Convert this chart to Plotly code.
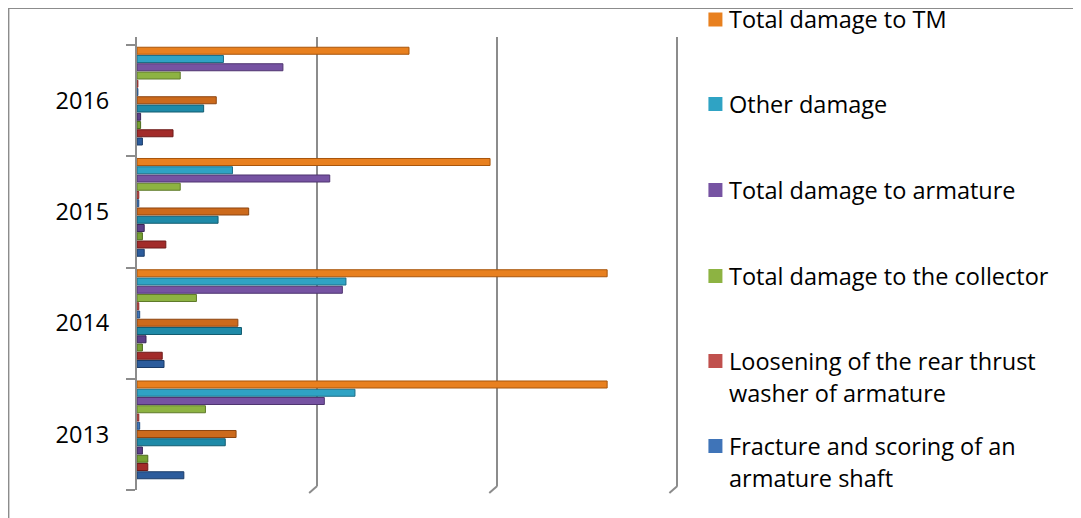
import plotly.graph_objects as go

years = ["2013", "2014", "2015", "2016"]

series_names = [
    "Fracture and scoring of an armature shaft",
    "Loosening of the rear thrust washer of armature",
    "Total damage to the collector",
    "Total damage to armature",
    "Other damage",
    "Total damage to TM",
]

# lower six bars in each year group (darker shade)
frac_b = [26, 15, 4, 3]
loos_b = [6, 14, 16, 20]
coll_b = [6, 3, 3, 2]
arm_b = [3, 5, 4, 2]
other_b = [49, 58, 45, 37]
tm_b = [55, 56, 62, 44]

# upper six bars in each year group (brighter shade, shown in legend)
frac_a = [1.5, 1.5, 1, 0.5]
loos_a = [1, 1, 1, 0.5]
coll_a = [38, 33, 24, 24]
arm_a = [104, 114, 107, 81]
other_a = [121, 116, 53, 48]
tm_a = [261, 261, 196, 151]

colors_a = ["#3f74b8", "#c0504d", "#8db342", "#7653a2", "#2fa3c4", "#e8801f"]
edges_a = ["#264f80", "#8a2c2a", "#5f7a2a", "#4f3570", "#1d6e86", "#a8560c"]
colors_b = ["#2c5c9c", "#a22b2a", "#76a032", "#5d3f88", "#1f8aa8", "#cc6a1c"]
edges_b = ["#1b3c68", "#6e1b1a", "#4d6a1f", "#3b2758", "#135c70", "#8c4510"]

vals_b = [frac_b, loos_b, coll_b, arm_b, other_b, tm_b]
vals_a = [frac_a, loos_a, coll_a, arm_a, other_a, tm_a]

# page body has an 8px margin; screen coordinates below are converted
OFF = 8
W, H = 1081 - OFF, 518 - OFF
XMAX = 302
SX0, SYTOP, SY0, SY1 = 137, 37, 45, 490  # screen px of plot area
SX1 = SX0 + 1.8 * XMAX

cat_h = (SY1 - SY0) / 4.0
top_pad = (SY0 - SYTOP) / cat_h

# grouped bar geometry (in category units)
GAP, GROUPGAP, NB = 0.11, 0.15, 12
slot = (1 - GAP) / NB
bw = slot * (1 - GROUPGAP)
shift = 4.5 / cat_h  # perspective: bars sit slightly above the category centre

fig = go.Figure()
all_vals = vals_b + vals_a
all_cols = colors_b + colors_a
all_edges = edges_b + edges_a
for j in range(NB):
    off = -(1 - GAP) / 2 + j * slot + slot * GROUPGAP / 2 + shift
    fig.add_trace(go.Bar(
        y=years, x=all_vals[j], orientation="h", name=series_names[j % 6], showlegend=False,
        width=bw, offset=off,
        marker=dict(color=all_cols[j], line=dict(color=all_edges[j], width=1)),
    ))


def px(x):
    return (x - SX0) / (SX1 - SX0)


def py(y):
    return (SY1 - y) / (SY1 - SYTOP)


GRAY = "#8c8c8c"
FONT = "Open Sans"
FS = 23.5

shapes = [
    dict(type="line", xref="paper", yref="paper", x0=px(OFF), x1=px(1081 + 5), y0=py(OFF), y1=py(OFF),
         line=dict(color=GRAY, width=2)),
    dict(type="line", xref="paper", yref="paper", x0=px(OFF + 0.5), x1=px(OFF + 0.5), y0=py(OFF), y1=py(525),
         line=dict(color=GRAY, width=2)),
]
# small perspective feet at the bottom of gridlines
for gx in [100, 200, 300]:
    shapes.append(dict(type="line", xref="x", yref="paper", x0=gx, x1=gx,
                       y0=py(490), y1=py(486), line=dict(color="white", width=3)))
    shapes.append(dict(type="line", xref="x", yref="paper", x0=gx, x1=gx - 8 / 1.8,
                       y0=py(486), y1=py(493), line=dict(color=GRAY, width=2)))
annotations = []

# manual legend (entries ordered top to bottom)
legend_items = [
    (5, ["Total damage to TM"], 19.5),
    (4, ["Other damage"], 104),
    (3, ["Total damage to armature"], 190),
    (2, ["Total damage to the collector"], 276),
    (1, ["Loosening of the rear thrust", "washer of armature"], 361),
    (0, ["Fracture and scoring of an", "armature shaft"], 446),
]
for idx, lines, cy in legend_items:
    shapes.append(dict(type="rect", xref="paper", yref="paper",
                       x0=px(708), x1=px(722), y0=py(cy - 7), y1=py(cy + 7),
                       fillcolor=colors_a[idx], line=dict(width=0)))
    for k, line in enumerate(lines):
        annotations.append(dict(xref="paper", yref="paper", x=px(727), y=py(cy + 32 * k),
                                xanchor="left", yanchor="middle", align="left", showarrow=False,
                                text=line, font=dict(family=FONT, size=FS, color="#000000")))

fig.update_layout(
    width=W, height=H,
    margin=dict(l=SX0 - OFF, r=W - (SX1 - OFF), t=SYTOP - OFF, b=H - (SY1 - OFF), autoexpand=False),
    paper_bgcolor="white", plot_bgcolor="white",
    barmode="group", bargap=GAP, bargroupgap=GROUPGAP,
    showlegend=False,
    shapes=shapes, annotations=annotations,
    font=dict(family=FONT, size=FS, color="#000000"),
    xaxis=dict(range=[0, XMAX], dtick=100, showgrid=True, gridcolor=GRAY, gridwidth=2,
               showticklabels=False, zeroline=False, showline=False, fixedrange=True),
    yaxis=dict(type="category", range=[-0.5, 3.5 + top_pad], showline=True, linecolor=GRAY, linewidth=2,
               ticks="outside", tickson="boundaries", ticklen=9, tickcolor=GRAY, tickwidth=2,
               showgrid=False, ticklabelstandoff=21,
               tickfont=dict(family=FONT, size=FS, color="#000000")),
)

fig.write_html("out.html")
